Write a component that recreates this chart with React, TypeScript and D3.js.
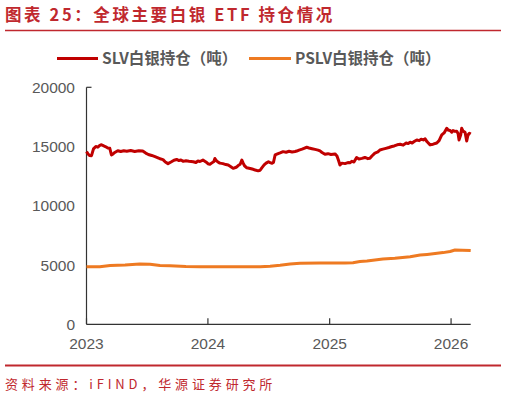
import React from "react";
import * as d3 from "d3";

const slvDates = [
  "2023-01-01","2023-01-05","2023-01-10","2023-01-16","2023-01-22","2023-01-29","2023-02-04","2023-02-10","2023-02-15","2023-02-22","2023-02-28","2023-03-06","2023-03-12","2023-03-17","2023-03-21","2023-03-27","2023-04-05","2023-04-14","2023-04-23","2023-05-02","2023-05-14","2023-05-26","2023-06-07","2023-06-19","2023-06-28","2023-07-06","2023-07-16","2023-07-26","2023-08-04","2023-08-10","2023-08-19","2023-08-26","2023-09-03","2023-09-12","2023-09-21","2023-09-29","2023-10-06","2023-10-12","2023-10-19","2023-10-27","2023-11-05","2023-11-18","2023-11-26","2023-12-02","2023-12-08","2023-12-17","2023-12-26",
  "2024-01-01","2024-01-07","2024-01-13","2024-01-19","2024-01-22","2024-01-27","2024-01-31","2024-02-06","2024-02-15","2024-02-24","2024-03-02","2024-03-10","2024-03-17","2024-03-26","2024-04-01","2024-04-07","2024-04-12","2024-04-16","2024-04-20","2024-04-27","2024-05-07","2024-05-16","2024-05-22","2024-05-31","2024-06-06","2024-06-11","2024-06-18","2024-06-24","2024-07-01","2024-07-06","2024-07-12","2024-07-16","2024-07-21","2024-07-30","2024-08-05","2024-08-14","2024-08-23","2024-09-01","2024-09-10","2024-09-19","2024-09-24","2024-10-01","2024-10-10","2024-10-16","2024-10-24","2024-10-31","2024-11-09","2024-11-18","2024-11-27","2024-12-03","2024-12-09","2024-12-18","2024-12-27",
  "2025-01-05","2025-01-17","2025-01-23","2025-01-28","2025-02-01","2025-02-07","2025-02-16","2025-02-25","2025-03-03","2025-03-09","2025-03-15","2025-03-23","2025-03-30","2025-04-08","2025-04-17","2025-04-26","2025-05-02","2025-05-08","2025-05-17","2025-05-26","2025-06-01","2025-06-10","2025-06-19","2025-06-28","2025-07-07","2025-07-14","2025-07-23","2025-08-01","2025-08-10","2025-08-19","2025-08-25","2025-08-31","2025-09-06","2025-09-12","2025-09-20","2025-09-27","2025-10-03","2025-10-10","2025-10-15","2025-10-21","2025-10-30","2025-11-08","2025-11-19","2025-11-26","2025-12-04","2025-12-11","2025-12-19","2025-12-23","2025-12-29",
  "2026-01-03","2026-01-07","2026-01-13","2026-01-18","2026-01-22","2026-01-25","2026-01-30","2026-02-02","2026-02-06","2026-02-12","2026-02-17","2026-02-21","2026-02-25","2026-03-01"
];
const slvValues = [
  14570,14400,14250,14230,14800,15000,14950,15100,15150,15050,14980,14880,14850,14290,14350,14500,14650,14580,14640,14600,14660,14590,14640,14620,14450,14330,14250,14150,14050,13970,13900,13700,13560,13700,13850,13910,13820,13860,13750,13800,13760,13720,13650,13780,13740,13860,13700,
  13550,13500,13620,13740,13990,13800,13700,13600,13560,13480,13440,13300,13160,13250,13400,13500,13860,13600,13380,13210,13150,13080,13020,12950,13000,13200,13450,13600,13720,13650,13590,13650,14290,14400,14460,14570,14520,14600,14540,14580,14620,14700,14780,14850,14940,14880,14820,14760,14700,14630,14500,14350,14400,
  14330,14380,14200,13800,13440,13600,13560,13650,13640,13750,13700,14070,13950,14000,14080,13980,14010,14200,14450,14550,14710,14780,14850,14920,15000,15050,15150,15190,15120,15300,15250,15370,15300,15420,15560,15500,15620,15560,15650,15400,15140,15200,15300,15500,15980,16150,16540,16400,16350,
  16210,16350,16280,16300,16100,15560,16000,16540,16300,16200,15470,16000,16120,16050
];

const pslvDates = [
  "2023-01-01","2023-02-10","2023-03-13","2023-04-27","2023-06-10","2023-07-11","2023-08-10","2023-09-09","2023-10-27","2023-12-08",
  "2024-03-08","2024-06-06","2024-07-06","2024-08-05","2024-09-04","2024-10-04","2024-12-03",
  "2025-02-16","2025-03-12","2025-04-02","2025-04-23","2025-05-17","2025-06-10","2025-07-16","2025-08-31","2025-09-30","2025-10-21","2025-11-20","2025-12-08","2025-12-29",
  "2026-01-13","2026-02-04","2026-03-01"
];
const pslvValues = [
  4850,4860,4960,5000,5090,5060,4970,4940,4880,4860,
  4850,4860,4900,4980,5080,5150,5170,
  5180,5200,5300,5340,5420,5510,5580,5700,5850,5900,5990,6050,6140,
  6270,6250,6220
];

const yTicks = [0, 5000, 10000, 15000, 20000];
const xTickYears = ["2023", "2024", "2025", "2026"];
const seriesNames = ["SLV白银持仓（吨）", "PSLV白银持仓（吨）"];
const titleText = "图表 25：全球主要白银 ETF 持仓情况";
const sourceText = "资料来源：iFIND，华源证券研究所";

const RED = "#C00000";
const ORANGE = "#EE7A22";
const TITLE_RED = "#C0282E";
const GRAY = "#595959";

export default function App() {
  const parse = d3.timeParse("%Y-%m-%d");
  const x = d3
    .scaleTime()
    .domain([parse("2023-01-01")!, parse("2026-03-01")!])
    .range([86.5, 470.7]);
  const y = d3.scaleLinear().domain([0, 20000]).range([324.3, 87.3]);

  const slv = slvDates.map((d, i) => ({ date: parse(d)!, v: slvValues[i] }));
  const pslv = pslvDates.map((d, i) => ({ date: parse(d)!, v: pslvValues[i] }));
  const line = d3
    .line<{ date: Date; v: number }>()
    .x((d) => x(d.date))
    .y((d) => y(d.v));

  const cjk = "'Noto Sans CJK SC', 'Noto Sans', sans-serif";
  const latin = "'Liberation Sans', Arial, sans-serif";

  return (
    <svg
      width={506}
      height={399}
      style={{ position: "absolute", left: 0, top: 0, background: "#fff" }}
    >
      <text x={5} y={21} fontFamily={cjk} fontWeight={700} fontSize={16.5} fill={TITLE_RED} letterSpacing={2.6}>
        {titleText}
      </text>
      <line x1={5} x2={501} y1={30.5} y2={30.5} stroke={TITLE_RED} strokeWidth={1.5} />

      {/* legend */}
      <line x1={57} x2={98} y1={58.5} y2={58.5} stroke={RED} strokeWidth={3} />
      <text x={102} y={64} fontFamily={cjk} fontWeight={700} fontSize={15.5} fill={GRAY}>
        {seriesNames[0]}
      </text>
      <line x1={249} x2={291} y1={58.5} y2={58.5} stroke={ORANGE} strokeWidth={3} />
      <text x={295} y={64} fontFamily={cjk} fontWeight={700} fontSize={15.5} fill={GRAY}>
        {seriesNames[1]}
      </text>

      {/* y axis labels */}
      {yTicks.map((t) => (
        <text key={t} x={75} y={y(t) + 5.5} textAnchor="end" fontFamily={latin} fontSize={15.5} fill={GRAY}>
          {t}
        </text>
      ))}
      {/* axes */}
      <line x1={86.5} x2={86.5} y1={y(20000)} y2={y(0)} stroke="#333" strokeWidth={1.2} />
      <line x1={86.5} x2={91.5} y1={y(20000)} y2={y(20000)} stroke="#333" strokeWidth={1.2} />
      <line x1={86.5} x2={470.7} y1={y(0)} y2={y(0)} stroke="#333" strokeWidth={1.2} />
      {xTickYears.map((yr) => {
        const xp = x(parse(`${yr}-01-01`)!);
        return (
          <g key={yr}>
            <line x1={xp} x2={xp} y1={y(0)} y2={y(0) - 6} stroke="#333" strokeWidth={1.2} />
            <text x={xp} y={349} textAnchor="middle" fontFamily={latin} fontSize={15.5} fill={GRAY}>
              {yr}
            </text>
          </g>
        );
      })}

      {/* series */}
      <path d={line(pslv)!} fill="none" stroke={ORANGE} strokeWidth={3} strokeLinejoin="round" />
      <path d={line(slv)!} fill="none" stroke={RED} strokeWidth={3} strokeLinejoin="round" />

      <line x1={5} x2={501} y1={365.5} y2={365.5} stroke={TITLE_RED} strokeWidth={1.8} />
      <text x={5} y={389} fontFamily={cjk} fontSize={13} fill={TITLE_RED} letterSpacing={3.85}>
        {sourceText}
      </text>
    </svg>
  );
}
